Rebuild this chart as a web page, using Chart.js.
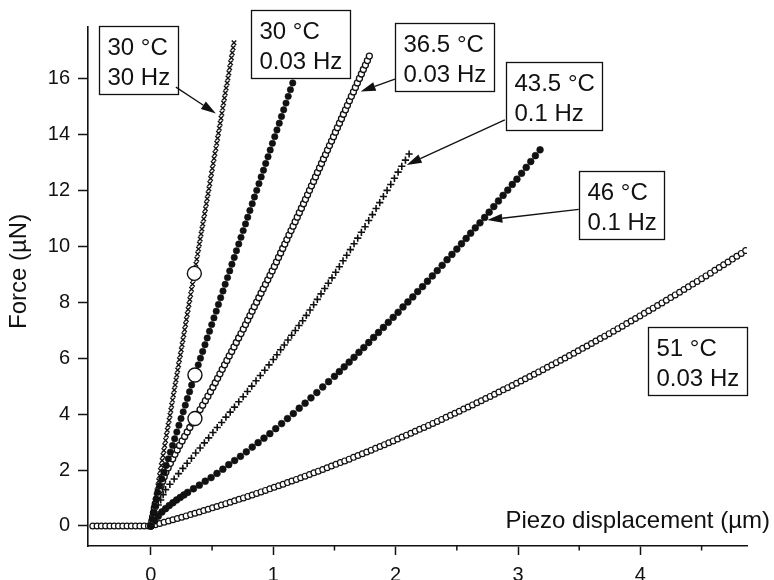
<!DOCTYPE html>
<html>
<head>
<meta charset="utf-8">
<script src="https://cdn.jsdelivr.net/npm/chart.js@4.4.1/dist/chart.umd.min.js"></script>
<style>
  body { margin: 0; background: #fff; }
  canvas { display: block; }
</style>
</head>
<body>
<canvas id="chart" width="774" height="580"></canvas>
<script>
// 30 °C, 30 Hz
let t30f30X = [0,0.007,0.014,0.021,0.028,0.035,0.042,0.05,0.057,0.064,0.071,0.078,0.085,0.092,0.099,0.106,0.113,0.12,0.127,0.134,0.141,0.149,0.156,0.163,0.17,0.177,0.184,0.191,0.198,0.205,0.212,0.219,0.226,0.233,0.241,0.248,0.255,0.262,0.269,0.276,0.283,0.29,0.297,0.304,0.311,0.318,0.325,0.332,0.34,0.347,0.354,0.361,0.368,0.375,0.382,0.389,0.396,0.403,0.41,0.417,0.424,0.432,0.439,0.446,0.453,0.46,0.467,0.474,0.481,0.488,0.495,0.502,0.509,0.516,0.523,0.531,0.538,0.545,0.552,0.559,0.566,0.573,0.58,0.587,0.594,0.601,0.608,0.615,0.623,0.63,0.637,0.644,0.651,0.658,0.665,0.672,0.679];
let t30f30Y = [0,0.18,0.36,0.54,0.72,0.9,1.08,1.26,1.44,1.62,1.8,1.98,2.16,2.34,2.52,2.7,2.88,3.06,3.24,3.42,3.6,3.78,3.96,4.14,4.32,4.5,4.68,4.86,5.04,5.22,5.4,5.58,5.76,5.94,6.12,6.3,6.48,6.66,6.84,7.02,7.2,7.38,7.56,7.74,7.92,8.1,8.28,8.46,8.64,8.82,9,9.18,9.36,9.54,9.72,9.9,10.08,10.26,10.44,10.62,10.8,10.98,11.16,11.34,11.52,11.7,11.88,12.06,12.24,12.42,12.6,12.78,12.96,13.14,13.32,13.5,13.68,13.86,14.04,14.22,14.4,14.58,14.76,14.94,15.12,15.3,15.48,15.66,15.84,16.02,16.2,16.38,16.56,16.74,16.92,17.1,17.28];

// 30 °C, 0.03 Hz
let t30f003X = [0,0.011,0.022,0.033,0.044,0.055,0.072,0.09,0.107,0.125,0.142,0.159,0.177,0.194,0.212,0.229,0.246,0.264,0.281,0.298,0.316,0.333,0.351,0.368,0.387,0.405,0.423,0.442,0.46,0.479,0.497,0.515,0.534,0.552,0.57,0.589,0.607,0.626,0.644,0.662,0.681,0.699,0.718,0.736,0.754,0.773,0.791,0.809,0.828,0.846,0.865,0.883,0.901,0.92,0.938,0.957,0.975,0.993,1.012,1.03,1.049,1.067,1.085,1.104,1.122,1.14,1.159];
let t30f003Y = [0,0.24,0.48,0.72,0.96,1.2,1.44,1.68,1.92,2.16,2.4,2.64,2.88,3.12,3.36,3.6,3.84,4.08,4.32,4.56,4.8,5.04,5.28,5.52,5.76,6,6.24,6.48,6.72,6.96,7.2,7.44,7.68,7.92,8.16,8.4,8.64,8.88,9.12,9.36,9.6,9.84,10.08,10.32,10.56,10.8,11.04,11.28,11.52,11.76,12,12.24,12.48,12.72,12.96,13.2,13.44,13.68,13.92,14.16,14.4,14.64,14.88,15.12,15.36,15.6,15.84];

// 36.5 °C, 0.03 Hz
let t365X = [0,0.007,0.014,0.021,0.028,0.036,0.045,0.058,0.07,0.083,0.096,0.109,0.122,0.141,0.159,0.178,0.196,0.215,0.234,0.255,0.276,0.297,0.318,0.339,0.36,0.381,0.402,0.423,0.445,0.466,0.487,0.507,0.526,0.545,0.564,0.583,0.602,0.621,0.64,0.66,0.679,0.698,0.717,0.736,0.755,0.773,0.791,0.809,0.827,0.845,0.864,0.882,0.9,0.918,0.936,0.955,0.973,0.991,1.009,1.026,1.043,1.06,1.077,1.094,1.111,1.128,1.145,1.162,1.179,1.196,1.213,1.23,1.247,1.263,1.28,1.296,1.312,1.329,1.345,1.361,1.378,1.394,1.41,1.427,1.443,1.459,1.476,1.492,1.508,1.524,1.541,1.557,1.573,1.59,1.606,1.622,1.638,1.655,1.671,1.687,1.704,1.72,1.736,1.753,1.769,1.785];
let t365Y = [0,0.16,0.32,0.48,0.64,0.8,0.96,1.12,1.28,1.44,1.6,1.76,1.92,2.08,2.24,2.4,2.56,2.72,2.88,3.04,3.2,3.36,3.52,3.68,3.84,4,4.16,4.32,4.48,4.64,4.8,4.96,5.12,5.28,5.44,5.6,5.76,5.92,6.08,6.24,6.4,6.56,6.72,6.88,7.04,7.2,7.36,7.52,7.68,7.84,8,8.16,8.32,8.48,8.64,8.8,8.96,9.12,9.28,9.44,9.6,9.76,9.92,10.08,10.24,10.4,10.56,10.72,10.88,11.04,11.2,11.36,11.52,11.68,11.84,12,12.16,12.32,12.48,12.64,12.8,12.96,13.12,13.28,13.44,13.6,13.76,13.92,14.08,14.24,14.4,14.56,14.72,14.88,15.04,15.2,15.36,15.52,15.68,15.84,16,16.16,16.32,16.48,16.64,16.8];

// 43.5 °C, 0.1 Hz
let t435X = [0,0.02,0.04,0.06,0.08,0.1,0.12,0.155,0.19,0.226,0.261,0.296,0.331,0.366,0.402,0.437,0.472,0.507,0.542,0.578,0.613,0.648,0.683,0.718,0.754,0.789,0.824,0.859,0.894,0.93,0.965,1,1.03,1.06,1.09,1.12,1.15,1.18,1.21,1.24,1.27,1.3,1.33,1.36,1.39,1.42,1.45,1.48,1.51,1.54,1.57,1.6,1.63,1.66,1.69,1.72,1.75,1.78,1.81,1.84,1.87,1.9,1.93,1.96,1.99,2.02,2.05,2.08,2.11];
let t435Y = [0,0.25,0.5,0.75,0.93,1.12,1.3,1.49,1.68,1.87,2.06,2.24,2.42,2.61,2.79,2.97,3.15,3.34,3.52,3.7,3.89,4.07,4.25,4.44,4.62,4.81,5,5.19,5.38,5.57,5.76,5.95,6.12,6.3,6.47,6.65,6.82,6.99,7.17,7.34,7.53,7.72,7.91,8.1,8.3,8.49,8.68,8.87,9.07,9.27,9.48,9.68,9.88,10.09,10.29,10.5,10.7,10.92,11.13,11.35,11.56,11.78,12,12.21,12.43,12.65,12.86,13.08,13.3];

// 46 °C, 0.1 Hz
let t46X = [0,0.03,0.06,0.09,0.12,0.15,0.18,0.21,0.24,0.27,0.3,0.348,0.396,0.444,0.492,0.54,0.588,0.636,0.684,0.732,0.78,0.828,0.876,0.924,0.972,1.02,1.068,1.116,1.164,1.212,1.26,1.308,1.356,1.404,1.452,1.5,1.54,1.58,1.62,1.66,1.7,1.74,1.78,1.82,1.86,1.9,1.94,1.98,2.02,2.06,2.1,2.14,2.18,2.22,2.26,2.3,2.34,2.38,2.42,2.46,2.5,2.538,2.576,2.613,2.651,2.689,2.727,2.764,2.802,2.84,2.878,2.916,2.953,2.991,3.029,3.067,3.104,3.142,3.18];
let t46Y = [0,0.18,0.35,0.5,0.62,0.73,0.83,0.93,1.02,1.11,1.2,1.33,1.46,1.6,1.73,1.88,2.03,2.19,2.34,2.49,2.65,2.82,2.98,3.14,3.3,3.48,3.66,3.84,4.02,4.21,4.39,4.58,4.77,4.97,5.16,5.35,5.52,5.69,5.86,6.03,6.21,6.38,6.56,6.74,6.92,7.1,7.28,7.46,7.64,7.83,8.01,8.19,8.38,8.56,8.75,8.94,9.13,9.32,9.52,9.71,9.9,10.09,10.28,10.47,10.66,10.84,11.03,11.22,11.42,11.62,11.82,12.01,12.21,12.4,12.61,12.82,13.03,13.24,13.45];

// 51 °C, 0.03 Hz (includes the approach before contact)
let t51X = [-0.475,-0.44,-0.405,-0.37,-0.335,-0.3,-0.265,-0.23,-0.195,-0.16,-0.125,-0.09,-0.055,-0.02,0,0.036,0.072,0.108,0.144,0.18,0.216,0.252,0.288,0.324,0.36,0.396,0.432,0.468,0.504,0.54,0.576,0.612,0.648,0.684,0.72,0.756,0.792,0.828,0.864,0.9,0.936,0.972,1.008,1.044,1.08,1.116,1.152,1.188,1.224,1.26,1.296,1.332,1.368,1.404,1.44,1.476,1.512,1.548,1.584,1.62,1.656,1.692,1.728,1.764,1.8,1.836,1.872,1.908,1.944,1.98,2.016,2.052,2.088,2.124,2.16,2.196,2.232,2.268,2.304,2.34,2.376,2.412,2.448,2.484,2.52,2.556,2.592,2.628,2.664,2.7,2.736,2.772,2.808,2.844,2.88,2.916,2.952,2.988,3.024,3.06,3.096,3.132,3.168,3.204,3.24,3.276,3.312,3.348,3.384,3.42,3.456,3.492,3.528,3.564,3.6,3.636,3.672,3.708,3.744,3.78,3.816,3.852,3.888,3.924,3.96,3.996,4.032,4.068,4.104,4.14,4.176,4.212,4.248,4.284,4.32,4.356,4.392,4.428,4.464,4.5,4.536,4.572,4.608,4.644,4.68,4.716,4.752,4.788,4.824,4.86];
let t51Y = [0,0,0,0,0,0,0,0,0,0,0,0,0,0,0,0.043,0.087,0.132,0.176,0.222,0.267,0.313,0.36,0.407,0.454,0.502,0.55,0.599,0.648,0.698,0.748,0.798,0.849,0.9,0.952,1.004,1.057,1.11,1.164,1.218,1.272,1.327,1.382,1.438,1.494,1.551,1.608,1.666,1.724,1.782,1.841,1.9,1.96,2.02,2.081,2.142,2.203,2.265,2.327,2.39,2.453,2.517,2.581,2.646,2.711,2.776,2.842,2.908,2.975,3.042,3.11,3.178,3.247,3.316,3.385,3.455,3.525,3.596,3.667,3.739,3.811,3.883,3.956,4.03,4.104,4.178,4.253,4.328,4.403,4.479,4.556,4.633,4.71,4.788,4.866,4.945,5.024,5.103,5.183,5.264,5.345,5.426,5.508,5.59,5.673,5.756,5.839,5.923,6.008,6.092,6.178,6.263,6.35,6.436,6.523,6.611,6.699,6.787,6.876,6.965,7.055,7.145,7.235,7.326,7.418,7.51,7.602,7.695,7.788,7.882,7.976,8.07,8.165,8.261,8.357,8.453,8.55,8.647,8.744,8.843,8.941,9.04,9.139,9.239,9.339,9.44,9.541,9.643,9.745,9.847];

// points picked out at the same displacement on the three fastest curves
let markX = [0.355, 0.36, 0.36];
let markY = [9.03, 5.4, 3.84];

let xTicks = [0, 1, 2, 3, 4];
let xMinor = [0.5, 1.5, 2.5, 3.5, 4.5];
let yTicks = [0, 2, 4, 6, 8, 10, 12, 14, 16];

// label boxes: top-left corner and arrow ends in axis units
let notes = [
  { lines: ['30 °C', '30 Hz'], at: [-0.424, 17.87], from: [0.204, 15.69], to: [0.531, 14.75] },
  { lines: ['30 °C', '0.03 Hz'], at: [0.816, 18.45] },
  { lines: ['36.5 °C', '0.03 Hz'], at: [1.994, 17.97], from: [1.994, 15.98], to: [1.714, 15.53] },
  { lines: ['43.5 °C', '0.1 Hz'], at: [2.904, 16.6], from: [2.892, 14.52], to: [2.09, 12.91] },
  { lines: ['46 °C', '0.1 Hz'], at: [3.496, 12.7], from: [3.496, 11.32], to: [2.749, 10.94] },
  { lines: ['51 °C', '0.03 Hz'], at: [4.06, 7.12] }
];

const FONT = '"Liberation Sans", Arial, Helvetica, sans-serif';
const INK = '#111';

function pts(xs, ys) {
  return xs.map((x, i) => ({ x: x, y: ys[i] }));
}

function series(xs, ys, style, r, fill, bw) {
  return {
    data: pts(xs, ys),
    pointStyle: style,
    pointRadius: r,
    pointBackgroundColor: fill,
    pointBorderColor: INK,
    pointBorderWidth: bw,
    showLine: false
  };
}

function arrow(ctx, x1, y1, x2, y2) {
  let a = Math.atan2(y2 - y1, x2 - x1);
  let len = 15, half = 4.5;
  let bx = x2 - Math.cos(a) * len, by = y2 - Math.sin(a) * len;
  ctx.beginPath();
  ctx.moveTo(x1, y1);
  ctx.lineTo(bx, by);
  ctx.stroke();
  ctx.beginPath();
  ctx.moveTo(x2, y2);
  ctx.lineTo(bx + Math.sin(a) * half, by - Math.cos(a) * half);
  ctx.lineTo(bx - Math.sin(a) * half, by + Math.cos(a) * half);
  ctx.closePath();
  ctx.fill();
}

const decor = {
  id: 'decor',
  afterDraw(chart) {
    let ctx = chart.ctx, xs = chart.scales.x, ys = chart.scales.y, area = chart.chartArea;
    ctx.save();
    ctx.strokeStyle = INK;
    ctx.fillStyle = INK;

    // half-unit ticks on the displacement axis
    ctx.lineWidth = 1.5;
    xMinor.forEach(v => {
      let p = xs.getPixelForValue(v);
      ctx.beginPath();
      ctx.moveTo(p, area.bottom);
      ctx.lineTo(p, area.bottom + 4.5);
      ctx.stroke();
    });

    // axis titles
    ctx.font = '24px ' + FONT;
    ctx.textBaseline = 'alphabetic';
    ctx.textAlign = 'right';
    ctx.fillText('Piezo displacement (µm)', chart.width - 4, area.bottom - 18);
    ctx.save();
    ctx.translate(26, ys.getPixelForValue(9.1));
    ctx.rotate(-Math.PI / 2);
    ctx.textAlign = 'center';
    ctx.fillText('Force (µN)', 0, 0);
    ctx.restore();

    // boxed labels with arrows
    ctx.textAlign = 'left';
    notes.forEach(n => {
      let x = Math.round(xs.getPixelForValue(n.at[0])) + 0.5;
      let y = Math.round(ys.getPixelForValue(n.at[1])) + 0.5;
      let w = Math.round(Math.max(...n.lines.map(t => ctx.measureText(t).width)) + 16);
      ctx.fillStyle = '#fff';
      ctx.fillRect(x, y, w, 68);
      ctx.lineWidth = 1.3;
      ctx.strokeRect(x, y, w, 68);
      ctx.fillStyle = INK;
      n.lines.forEach((t, i) => ctx.fillText(t, x + 8, y + 28 + i * 30));
      if (n.from) {
        ctx.lineWidth = 1.3;
        arrow(ctx,
          xs.getPixelForValue(n.from[0]), ys.getPixelForValue(n.from[1]),
          xs.getPixelForValue(n.to[0]), ys.getPixelForValue(n.to[1]));
      }
    });
    ctx.restore();
  }
};

new Chart(document.getElementById('chart'), {
  type: 'scatter',
  data: {
    datasets: [
      series(markX, markY, 'circle', 7, '#fff', 1.4),
      series(t30f30X, t30f30Y, 'crossRot', 3.2, INK, 1.4),
      series(t30f003X, t30f003Y, 'circle', 3.2, INK, 0.6),
      series(t365X, t365Y, 'circle', 3.0, '#fff', 1.3),
      series(t435X, t435Y, 'cross', 3.6, INK, 1.6),
      series(t46X, t46Y, 'circle', 3.4, INK, 0.6),
      series(t51X, t51Y, 'circle', 2.9, '#fff', 1.2)
    ]
  },
  options: {
    responsive: false,
    animation: false,
    layout: { padding: { top: 27, right: 27, left: 0, bottom: 0 } },
    plugins: {
      legend: { display: false },
      tooltip: { enabled: false }
    },
    scales: {
      x: {
        type: 'linear',
        min: -0.514,
        max: 4.871,
        afterFit: s => { s.height = 34; },
        afterBuildTicks: s => { s.ticks = xTicks.map(v => ({ value: v })); },
        border: { display: true, color: INK, width: 1.6 },
        grid: { drawOnChartArea: false, tickLength: 9, tickWidth: 1.5, tickColor: INK },
        ticks: { color: INK, font: { family: FONT, size: 20 }, padding: 8, maxRotation: 0 }
      },
      y: {
        type: 'linear',
        min: -0.716,
        max: 17.84,
        afterFit: s => { s.width = 88; },
        afterBuildTicks: s => { s.ticks = yTicks.map(v => ({ value: v })); },
        border: { display: true, color: INK, width: 1.6 },
        grid: { drawOnChartArea: false, tickLength: 10, tickWidth: 1.5, tickColor: INK },
        ticks: { color: INK, font: { family: FONT, size: 20 }, padding: 8 }
      }
    }
  },
  plugins: [decor]
});
</script>
</body>
</html>
